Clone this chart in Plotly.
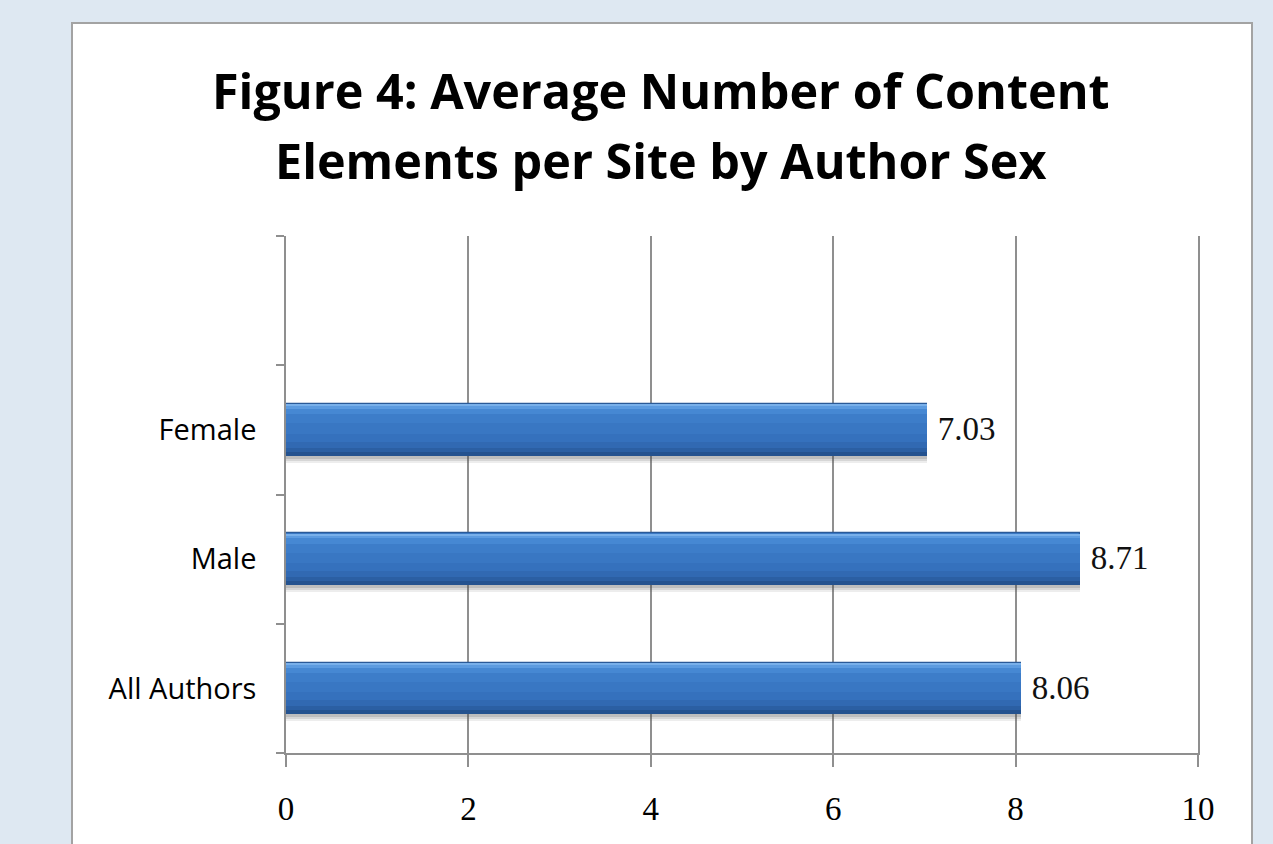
import plotly.graph_objects as go

# Data
categories = ["All Authors", "Male", "Female"]
values = [8.06, 8.71, 7.03]
axis_slots = ["All Authors", "Male", "Female", " "]
x_ticks = [0, 2, 4, 6, 8, 10]

TITLE_LINES = ["Figure 4: Average Number of Content", "Elements per Site by Author Sex"]

W, H = 1273, 844
ML, MR, MT, MB = 286, 75, 236, 91
PW, PH = W - ML - MR, H - MT - MB


def px_x(px):
    return (px - ML) / PW


def px_y(py):
    return (H - MB - py) / PH


BAR_W = 0.40
fig = go.Figure()

# soft drop shadow under each bar
for dy, alpha in [(0.055, 0.10), (0.04, 0.14), (0.025, 0.18)]:
    fig.add_trace(go.Bar(
        y=categories, x=values, orientation="h",
        width=BAR_W, offset=-BAR_W / 2 - dy,
        marker=dict(color=f"rgba(80,80,80,{alpha})", line=dict(width=0)),
        hoverinfo="skip", showlegend=False,
    ))

# main bar body (carries the value labels)
fig.add_trace(go.Bar(
    y=categories, x=values, orientation="h",
    width=BAR_W, offset=-BAR_W / 2,
    marker=dict(color="#3a78c3", line=dict(color="#2a5a98", width=1.2)),
    texttemplate="\u00a0%{x:.2f}", textposition="outside",
    textfont=dict(family="Liberation Serif", size=33, color="#111111"),
    cliponaxis=False, showlegend=False,
))

# shading bands across the bar height, bottom to top, for a bevelled look
bands = [
    (0.000, 0.030, "#24528f"),
    (0.030, 0.060, "#2b5fa3"),
    (0.060, 0.110, "#3169b2"),
    (0.110, 0.170, "#3571bd"),
    (0.170, 0.250, "#3977c3"),
    (0.250, 0.320, "#3d7dc9"),
    (0.320, 0.360, "#4688d3"),
    (0.360, 0.385, "#5c9be0"),
    (0.385, 0.398, "#79b0ea"),
]
for lo, hi, col in bands:
    fig.add_trace(go.Bar(
        y=categories, x=values, orientation="h",
        width=hi - lo, offset=-BAR_W / 2 + lo,
        marker=dict(color=col, line=dict(width=0)),
        hoverinfo="skip", showlegend=False,
    ))

# white chart frame on the blue page
fig.add_shape(
    type="rect", xref="paper", yref="paper",
    x0=px_x(72), x1=px_x(1252), y0=px_y(870), y1=px_y(23),
    fillcolor="white", line=dict(color="#a3a3a3", width=2), layer="below",
)

for text, ypx in zip(TITLE_LINES, [90, 160]):
    fig.add_annotation(
        text=text, xref="paper", yref="paper",
        x=px_x(661), y=px_y(ypx), xanchor="center", yanchor="middle",
        showarrow=False,
        font=dict(family="Open Sans", size=48.5, color="#000000", weight="bold"),
    )

fig.update_layout(
    width=W, height=H,
    margin=dict(l=ML, r=MR, t=MT, b=MB, pad=0),
    paper_bgcolor="#dee8f2", plot_bgcolor="white",
    barmode="overlay", bargap=0,
    showlegend=False,
    xaxis=dict(
        range=[0, 10], tickvals=x_ticks, ticktext=[str(v) for v in x_ticks],
        showgrid=True, gridcolor="#8f8f8f", gridwidth=1.5,
        showline=True, linecolor="#8f8f8f", linewidth=1.5,
        ticks="outside", ticklen=12, tickcolor="#8f8f8f", tickwidth=1.5,
        tickfont=dict(family="Liberation Serif", size=33, color="#000000"),
        ticklabelstandoff=14, zeroline=False,
    ),
    yaxis=dict(
        type="category", categoryorder="array", categoryarray=axis_slots,
        range=[-0.5, 3.5], tickson="boundaries",
        showgrid=False, showline=True, mirror=True,
        linecolor="#8f8f8f", linewidth=1.5,
        ticks="outside", ticklen=8, tickcolor="#8f8f8f", tickwidth=1.5,
        tickfont=dict(family="Open Sans", size=29, color="#000000"),
        ticklabelstandoff=22,
    ),
)

fig.write_html("out.html")
